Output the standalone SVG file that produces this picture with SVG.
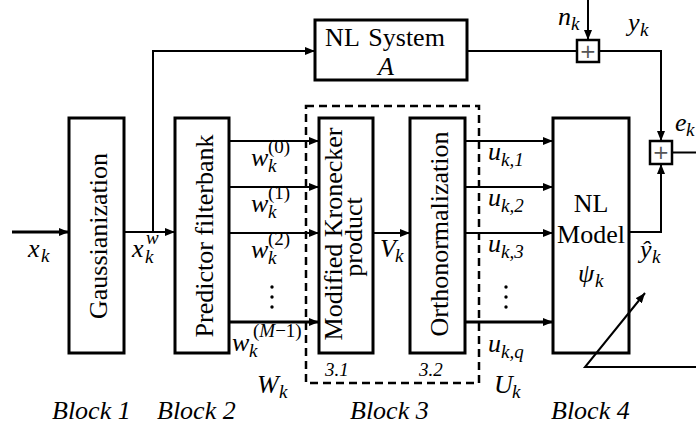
<svg xmlns="http://www.w3.org/2000/svg" width="696" height="426" viewBox="0 0 696 426">
<style>
.box{fill:#fff;stroke:#000;stroke-width:3}
.sum{fill:#fff;stroke:#000;stroke-width:2.5}
.ln{fill:none;stroke:#000;stroke-width:2}
.lnb{fill:none;stroke:#000;stroke-width:3}
.dash{fill:none;stroke:#000;stroke-width:2.5;stroke-dasharray:8 5}
.t{font-family:"Liberation Serif","Times New Roman",serif;font-size:26px;fill:#000}
.m{font-family:"Liberation Serif","Times New Roman",serif;font-style:italic;font-size:26px;fill:#000}
.s{font-family:"Liberation Serif","Times New Roman",serif;font-style:italic;font-size:19px;fill:#000}
.su{font-family:"Liberation Serif","Times New Roman",serif;font-size:19px;fill:#000}
.bl{font-family:"Liberation Serif","Times New Roman",serif;font-style:italic;font-size:26px;fill:#000}
.pl{font-family:"DejaVu Sans",sans-serif;font-size:20px;fill:#555}
</style>
<defs>
<marker id="ah" viewBox="0 0 10 8" refX="10" refY="4" markerWidth="10" markerHeight="8" markerUnits="userSpaceOnUse" orient="auto">
<path d="M0,0 L10,4 L0,8 z" fill="#000"/>
</marker>
</defs>
<rect width="696" height="426" fill="#fff"/>

<g id="block3-frame">
<rect class="dash" x="306" y="106" width="173" height="277"/>
</g>

<g id="gaussianization">
<rect class="box" x="69" y="118" width="55" height="235"/>
<text class="t" transform="translate(107,236) rotate(-90)" text-anchor="middle">Gaussianization</text>
</g>

<g id="predictor">
<rect class="box" x="175" y="118" width="54" height="235"/>
<text class="t" transform="translate(213,236) rotate(-90)" text-anchor="middle">Predictor filterbank</text>
</g>

<g id="kronecker">
<rect class="box" x="319" y="118" width="54" height="235"/>
<text class="t" transform="translate(342,234) rotate(-90)" text-anchor="middle">Modified Kronecker</text>
<text class="t" transform="translate(362,237) rotate(-90)" text-anchor="middle">product</text>
</g>

<g id="ortho">
<rect class="box" x="410" y="118" width="55" height="235"/>
<text class="t" transform="translate(448,234) rotate(-90)" text-anchor="middle">Orthonormalization</text>
</g>

<g id="nlmodel">
<rect class="box" x="553" y="118" width="76" height="235"/>
<text class="t" x="591" y="212" text-anchor="middle">NL</text>
<text class="t" x="591" y="243" text-anchor="middle">Model</text>
<text class="m" x="578" y="282">ψ</text><text class="s" x="595" y="287">k</text>
</g>

<g id="nlsystem">
<rect class="box" x="315" y="20" width="152" height="60"/>
<text class="t" x="385" y="46" text-anchor="middle" word-spacing="3">NL System</text>
<text class="m" x="386" y="75" text-anchor="middle">A</text>
</g>

<g id="sum1">
<rect class="sum" x="577" y="40" width="22" height="22"/>
<text class="pl" x="588" y="58" text-anchor="middle">+</text>
</g>
<g id="sum2">
<rect class="sum" x="650" y="141" width="22" height="23"/>
<text class="pl" x="661" y="159" text-anchor="middle">+</text>
</g>

<g id="connectors">
<path class="lnb" d="M12,232 H69" marker-end="url(#ah)"/>
<path class="ln" d="M124,232 H175" marker-end="url(#ah)"/>
<path class="ln" d="M153,232 V51 H315" marker-end="url(#ah)"/>
<path class="ln" d="M229,141 H319" marker-end="url(#ah)"/>
<path class="ln" d="M229,187 H319" marker-end="url(#ah)"/>
<path class="ln" d="M229,233 H319" marker-end="url(#ah)"/>
<path class="lnb" d="M229,322 H319" marker-end="url(#ah)"/>
<path class="ln" d="M373,233 H410" marker-end="url(#ah)"/>
<path class="ln" d="M465,141 H553" marker-end="url(#ah)"/>
<path class="ln" d="M465,187 H553" marker-end="url(#ah)"/>
<path class="ln" d="M465,233 H553" marker-end="url(#ah)"/>
<path class="lnb" d="M465,322 H553" marker-end="url(#ah)"/>
<path class="ln" d="M467,51 H577"/>
<path class="ln" d="M588,0 V40" marker-end="url(#ah)"/>
<path class="ln" d="M599,51 H661 V141" marker-end="url(#ah)"/>
<path class="ln" d="M629,232 H661 V164" marker-end="url(#ah)"/>
<path class="ln" d="M672,152.5 H696"/>
<path class="ln" d="M696,367 H585 L645,293" marker-end="url(#ah)"/>
</g>

<g id="labels">
<text class="m" x="28" y="257">x</text><text class="s" x="41" y="262">k</text>
<text class="m" x="132" y="257">x</text><text class="s" x="145" y="263">k</text><text class="s" x="146" y="244">w</text>

<text class="m" x="251" y="166">w</text><text class="s" x="268" y="172">k</text><text class="su" x="268" y="153">(0)</text>
<text class="m" x="251" y="212">w</text><text class="s" x="268" y="218">k</text><text class="su" x="268" y="199">(1)</text>
<text class="m" x="251" y="258">w</text><text class="s" x="268" y="264">k</text><text class="su" x="268" y="245">(2)</text>
<circle cx="272" cy="287" r="1.7"/><circle cx="272" cy="297" r="1.7"/><circle cx="272" cy="307" r="1.7"/>
<text class="m" x="232" y="351">w</text><text class="s" x="249" y="357">k</text><text class="su" x="253" y="337">(<tspan font-style="italic">M</tspan>−1)</text>

<text class="m" x="380" y="257">V</text><text class="s" x="395" y="262">k</text>

<text class="m" x="488" y="160">u</text><text class="s" x="501" y="166">k,1</text>
<text class="m" x="488" y="206">u</text><text class="s" x="501" y="212">k,2</text>
<text class="m" x="488" y="252">u</text><text class="s" x="501" y="258">k,3</text>
<circle cx="506" cy="287" r="1.7"/><circle cx="506" cy="297" r="1.7"/><circle cx="506" cy="307" r="1.7"/>
<text class="m" x="488" y="352">u</text><text class="s" x="501" y="358">k,q</text>

<text class="m" x="640" y="258">ŷ</text><text class="s" x="652" y="263">k</text>
<text class="m" x="558" y="25">n</text><text class="s" x="571" y="30">k</text>
<text class="m" x="628" y="31">y</text><text class="s" x="640" y="36">k</text>
<text class="m" x="675" y="131">e</text><text class="s" x="686" y="136">k</text>

<text class="m" x="257" y="393">W</text><text class="s" x="279" y="398">k</text>
<text class="m" x="494" y="393">U</text><text class="s" x="512" y="398">k</text>

<text class="s" x="325" y="376" font-size="22">3.1</text>
<text class="s" x="419" y="376" font-size="22">3.2</text>

<text class="bl" x="52" y="419">Block 1</text>
<text class="bl" x="157" y="419">Block 2</text>
<text class="bl" x="350" y="419">Block 3</text>
<text class="bl" x="551" y="419">Block 4</text>
</g>
</svg>
